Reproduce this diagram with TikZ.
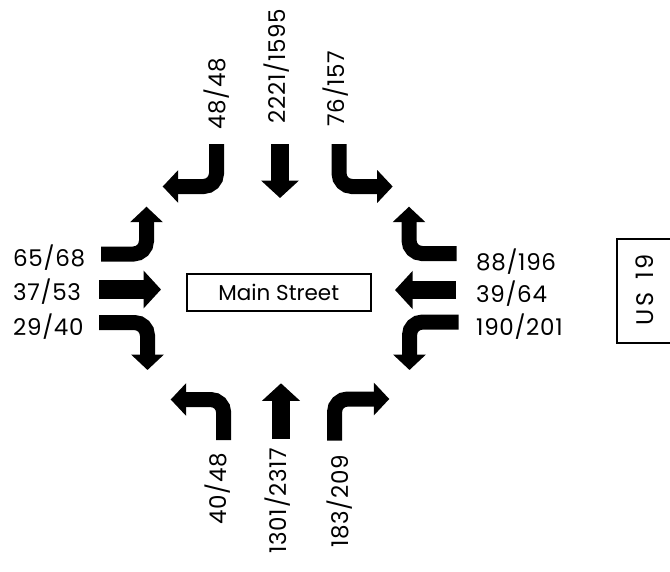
\documentclass[tikz,border=0pt]{standalone}
\usepackage{fontspec}
\setmainfont{Poppins}
\newfontfamily\numfont[Numbers=Monospaced, LetterSpace=3]{Poppins}
\newfontfamily\widefont[Numbers=Monospaced, LetterSpace=10, WordSpace=1.5]{Poppins}
\usetikzlibrary{arrows.meta}
\tikzset{
  turnarrow/.style={line width=15pt, rounded corners=13pt, -{Triangle[width=32pt,length=15.5pt]}},
  straightarrow/.style={line width=18.5pt, -{Triangle[width=37pt,length=17.5pt]}},
  lbl/.style={inner sep=0pt, font=\numfont\fontsize{23}{26}\selectfont},
  vlbl/.style={lbl, rotate=90},
  boxlbl/.style={draw, line width=2pt, inner sep=0pt, font=\fontsize{21.5}{24}\selectfont}
}
\begin{document}
\begin{tikzpicture}[x=1pt,y=-1pt]
\useasboundingbox (0,0) rectangle (670,571);
% top approach
\coordinate (tl1) at (216.5,144); \coordinate (tl2) at (216.5,186.5); \coordinate (tl3) at (162.7,186.5);
\draw[turnarrow] (tl1) -- (tl2) -- (tl3);
\coordinate (ts1) at (280,144); \coordinate (ts2) at (280,198);
\draw[straightarrow] (ts1) -- (ts2);
\coordinate (tr1) at (339,144); \coordinate (tr2) at (339,186.5); \coordinate (tr3) at (392.7,186.5);
\draw[turnarrow] (tr1) -- (tr2) -- (tr3);
% left approach
\coordinate (lt1) at (101,254); \coordinate (lt2) at (146.5,254); \coordinate (lt3) at (146.5,206.7);
\draw[turnarrow] (lt1) -- (lt2) -- (lt3);
\coordinate (ls1) at (99.3,289.5); \coordinate (ls2) at (161,289.5);
\draw[straightarrow] (ls1) -- (ls2);
\coordinate (lb1) at (99,322.5); \coordinate (lb2) at (147.5,322.5); \coordinate (lb3) at (147.5,370);
\draw[turnarrow] (lb1) -- (lb2) -- (lb3);
% right approach
\coordinate (rt1) at (456.5,253.5); \coordinate (rt2) at (409,253.5); \coordinate (rt3) at (409,206.7);
\draw[turnarrow] (rt1) -- (rt2) -- (rt3);
\coordinate (rs1) at (456,290); \coordinate (rs2) at (395,290);
\draw[straightarrow] (rs1) -- (rs2);
\coordinate (rb1) at (458.5,322); \coordinate (rb2) at (409.5,322); \coordinate (rb3) at (409.5,370);
\draw[turnarrow] (rb1) -- (rb2) -- (rb3);
% bottom approach
\coordinate (bl1) at (223.7,440); \coordinate (bl2) at (223.7,399.5); \coordinate (bl3) at (170.7,399.5);
\draw[turnarrow] (bl1) -- (bl2) -- (bl3);
\coordinate (bs1) at (281,439); \coordinate (bs2) at (281,383.3);
\draw[straightarrow] (bs1) -- (bs2);
\coordinate (br1) at (334.5,440.7); \coordinate (br2) at (334.5,399); \coordinate (br3) at (389.3,399);
\draw[turnarrow] (br1) -- (br2) -- (br3);
% labels
\node[vlbl] (ltop1) at (216.5,94) {48/48};
\node[vlbl] (ltop2) at (277,66) {2221/1595};
\node[vlbl] (ltop3) at (336,88.5) {76/157};
\node[vlbl] (lbot1) at (217.5,489) {40/48};
\node[vlbl] (lbot2) at (278,500.5) {1301/2317};
\node[vlbl] (lbot3) at (340,501.5) {183/209};
\node[lbl, anchor=base west] (lleft1) at (13,266.7) {65/68};
\node[lbl, anchor=base west] (lleft2) at (13,300.7) {37/53};
\node[lbl, anchor=base west] (lleft3) at (13,335) {29/40};
\node[lbl, anchor=base west] (lright1) at (476,270) {88/196};
\node[lbl, anchor=base west] (lright2) at (476,302.3) {39/64};
\node[lbl, anchor=base west] (lright3) at (476,335) {190/201};
\node[boxlbl, minimum width=184pt, minimum height=36.7pt] (main) at (278.7,292.3) {Main Street};
\draw[line width=2pt] (672,239) -- (617,239) -- (617,343.3) -- (672,343.3);
\node[inner sep=0pt, rotate=90, font=\widefont\fontsize{24}{27}\selectfont] (us) at (645,289.7) {US 19};
\end{tikzpicture}
\end{document}
